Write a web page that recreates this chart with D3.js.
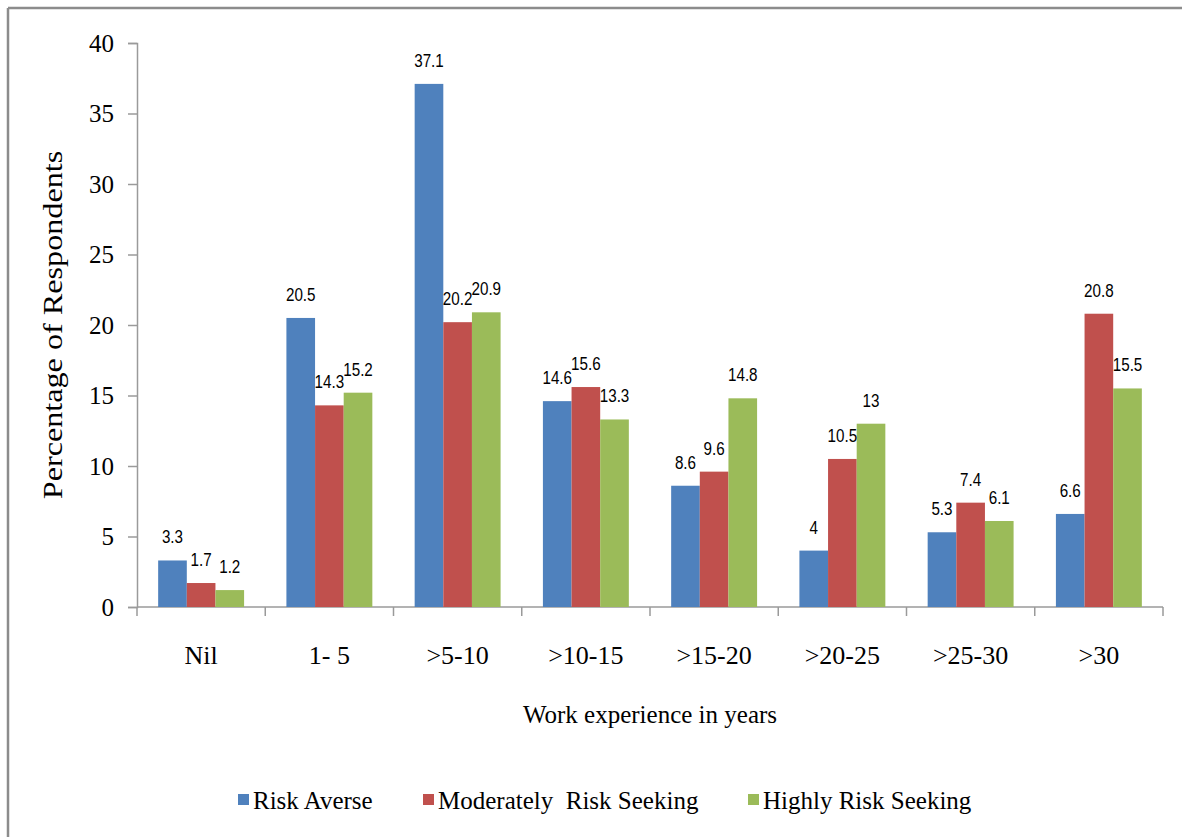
<!DOCTYPE html>
<html>
<head>
<meta charset="utf-8">
<script src="https://cdn.jsdelivr.net/npm/d3@7/dist/d3.min.js"></script>
<style>
  html, body { margin: 0; padding: 0; background: #fff; }
  svg { display: block; }
</style>
</head>
<body>
<svg id="chart" width="1182" height="837"></svg>
<script>
// Work experience groups
const categories = ["Nil", "1- 5", ">5-10", ">10-15", ">15-20", ">20-25", ">25-30", ">30"];
// Risk attitude series
const seriesNames = ["Risk Averse", "Moderately  Risk Seeking", "Highly Risk Seeking"];
const riskAverse = [3.3, 20.5, 37.1, 14.6, 8.6, 4, 5.3, 6.6];
const moderatelyRiskSeeking = [1.7, 14.3, 20.2, 15.6, 9.6, 10.5, 7.4, 20.8];
const highlyRiskSeeking = [1.2, 15.2, 20.9, 13.3, 14.8, 13, 6.1, 15.5];
const yTicks = [0, 5, 10, 15, 20, 25, 30, 35, 40];

const colors = ["#4F81BD", "#C0504D", "#9BBB59"];
const seriesValues = [riskAverse, moderatelyRiskSeeking, highlyRiskSeeking];

const svg = d3.select("#chart");
const serif = "'Liberation Serif', 'Times New Roman', serif";
const narrow = "'Liberation Sans Narrow', 'Arial Narrow', 'Liberation Sans', sans-serif";

// frame
svg.append("line").attr("x1", 8).attr("y1", 8).attr("x2", 1182).attr("y2", 8)
  .attr("stroke", "#8c8c8c").attr("stroke-width", 2.5);
svg.append("line").attr("x1", 8).attr("y1", 8).attr("x2", 8).attr("y2", 837)
  .attr("stroke", "#8c8c8c").attr("stroke-width", 2.5);

const plotLeft = 137, plotRight = 1163, plotTop = 43, plotBottom = 607;

const x0 = d3.scaleBand().domain(categories).range([plotLeft, plotRight]).paddingInner(0).paddingOuter(0);
const bw = x0.bandwidth();
const x1 = d3.scaleBand().domain(d3.range(seriesNames.length)).range([bw * 0.165, bw * 0.835]).padding(0);
const y = d3.scaleLinear().domain([0, 40]).range([plotBottom, plotTop]);

const axisColor = "#9a9a9a";

// y axis
const yAxis = svg.append("g").attr("transform", `translate(${plotLeft},0)`)
  .call(d3.axisLeft(y).tickValues(yTicks).tickSize(9).tickPadding(14).tickFormat(d3.format("d")));
yAxis.select(".domain").attr("stroke", axisColor).attr("stroke-width", 1.5);
yAxis.selectAll(".tick line").attr("stroke", axisColor).attr("stroke-width", 1.5);
yAxis.selectAll(".tick text").attr("font-family", serif).attr("font-size", 25).attr("fill", "#000");

// x axis: ticks at category boundaries
const xAxisG = svg.append("g").attr("transform", `translate(0,${plotBottom})`);
xAxisG.append("line").attr("x1", plotLeft).attr("x2", plotRight).attr("y1", 0).attr("y2", 0)
  .attr("stroke", axisColor).attr("stroke-width", 1.5);
const boundaries = categories.map(c => x0(c)).concat([x0(categories[categories.length - 1]) + bw]);
xAxisG.selectAll(".bt").data(boundaries).join("line")
  .attr("x1", d => d).attr("x2", d => d).attr("y1", 0).attr("y2", 9)
  .attr("stroke", axisColor).attr("stroke-width", 1.5);
xAxisG.selectAll(".cl").data(categories).join("text")
  .attr("x", d => x0(d) + bw / 2).attr("y", 57)
  .attr("text-anchor", "middle")
  .attr("font-family", serif).attr("font-size", 26).attr("fill", "#000")
  .text(d => d);

// bars
const groups = svg.append("g").selectAll("g").data(categories).join("g")
  .attr("transform", d => `translate(${x0(d)},0)`);

groups.selectAll("rect")
  .data((c, i) => seriesValues.map((vals, s) => ({ s, v: vals[i] })))
  .join("rect")
  .attr("x", d => x1(d.s))
  .attr("width", x1.bandwidth())
  .attr("y", d => y(d.v))
  .attr("height", d => y(0) - y(d.v))
  .attr("fill", d => colors[d.s]);

// value labels, horizontally condensed
groups.selectAll("text")
  .data((c, i) => seriesValues.map((vals, s) => ({ s, v: vals[i] })))
  .join("text")
  .attr("transform", d => `translate(${x1(d.s) + x1.bandwidth() / 2},${y(d.v) - 17}) scale(0.8,1)`)
  .attr("text-anchor", "middle")
  .attr("font-family", narrow).attr("font-size", 19).attr("fill", "#000")
  .text(d => String(d.v));

// axis titles
svg.append("text")
  .attr("x", (plotLeft + plotRight) / 2).attr("y", 723)
  .attr("text-anchor", "middle")
  .attr("font-family", serif).attr("font-size", 25).attr("fill", "#000")
  .text("Work experience in years");

svg.append("text")
  .attr("transform", `translate(62,${(plotTop + plotBottom) / 2}) rotate(-90) scale(1.15,1)`)
  .attr("text-anchor", "middle")
  .attr("font-family", serif).attr("font-size", 28).attr("fill", "#000")
  .text("Percentage of Respondents");

// legend
const legendX = [238, 423, 748];
const legend = svg.append("g").selectAll("g").data(seriesNames).join("g")
  .attr("transform", (d, i) => `translate(${legendX[i]},0)`);
legend.append("rect").attr("x", 0).attr("y", 794).attr("width", 11).attr("height", 11)
  .attr("fill", (d, i) => colors[i]);
legend.append("text").attr("x", 15).attr("y", 809)
  .attr("font-family", serif).attr("font-size", 25).attr("fill", "#000")
  .style("white-space", "pre")
  .text(d => d);
</script>
</body>
</html>
